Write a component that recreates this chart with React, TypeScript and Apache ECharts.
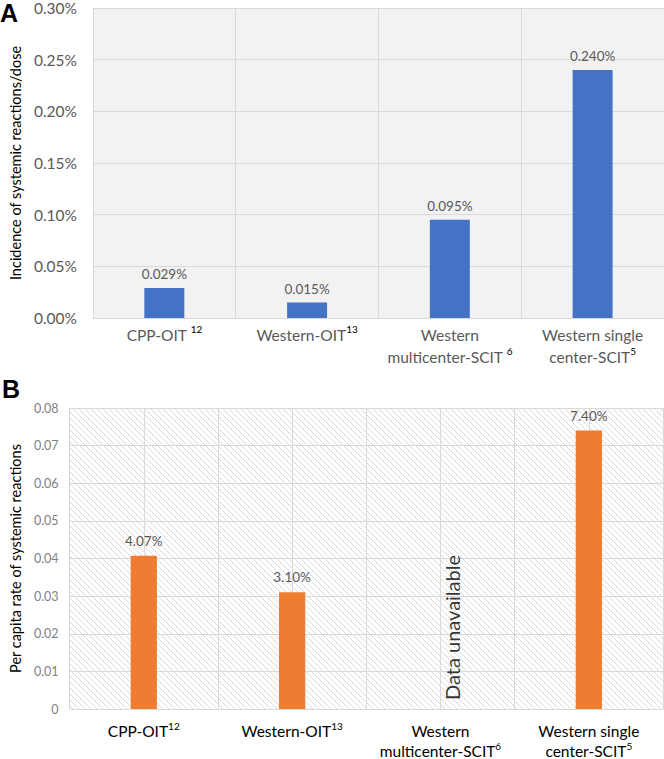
import React, { useEffect, useRef } from 'react';
import * as echarts from 'echarts';

// Panel A: incidence of systemic reactions per dose (in percent)
const categoriesA = ['CPP-OIT ', 'Western-OIT', 'Western\nmulticenter-SCIT ', 'Western single\ncenter-SCIT'];
const refsA = ['12', '13', '6', '5'];
const valuesA = [0.029, 0.015, 0.095, 0.24];

// Panel B: per capita rate of systemic reactions (fraction)
const categoriesB = ['CPP-OIT', 'Western-OIT', 'Western\nmulticenter-SCIT', 'Western single\ncenter-SCIT'];
const refsB = ['12', '13', '6', '5'];
const valuesB: (number | null)[] = [0.0407, 0.031, null, 0.074];
const unavailableIndexB = 2;
const unavailableText = 'Data unavailable';

const FONT = 'Lato, "Open Sans", sans-serif';

function makeHatch() {
  const c = document.createElement('canvas');
  const s = 6;
  c.width = s;
  c.height = s;
  const ctx = c.getContext('2d')!;
  ctx.fillStyle = '#ffffff';
  ctx.fillRect(0, 0, s, s);
  ctx.strokeStyle = '#d9d9d9';
  ctx.lineWidth = 1;
  for (const k of [-s, 0, s]) {
    ctx.beginPath();
    ctx.moveTo(k, 0);
    ctx.lineTo(k + s, s);
    ctx.stroke();
  }
  return c;
}

function supLabel(cats: string[], refs: string[]) {
  return (value: string, idx: number) => {
    const i = cats.indexOf(value);
    const r = refs[i >= 0 ? i : idx];
    const parts = value.split('\n');
    const last = parts.pop();
    const head = parts.map((p) => `{m|${p}}`).join('\n');
    return (head ? head + '\n' : '') + `{m|${last}}{sup|${r}}`;
  };
}

export default function App() {
  const ref = useRef<HTMLDivElement>(null);
  useEffect(() => {
    document.body.style.margin = '0';
    const chart = echarts.init(ref.current!, null, { renderer: 'svg' });
    const hatch = makeHatch();
    const grey = '#d9d9d9';
    chart.setOption({
      animation: false,
      textStyle: { fontFamily: FONT },
      grid: [
        { left: 82, top: 6, width: 592, height: 312, show: true, backgroundColor: '#f2f2f2', borderWidth: 0 },
        {
          left: 53, top: 408, width: 610, height: 304, show: true, borderWidth: 0,
          backgroundColor: { image: hatch, repeat: 'repeat', imageWidth: 6, imageHeight: 6 },
        },
      ],
      xAxis: [
        {
          type: 'category', gridIndex: 0, data: categoriesA,
          axisLine: { show: true, lineStyle: { color: grey } },
          axisTick: { show: false },
          splitLine: { show: true, interval: 0, lineStyle: { color: grey } },
          axisLabel: {
            interval: 0, margin: 6, formatter: supLabel(categoriesA, refsA),
            rich: {
              m: { fontSize: 15.5, color: '#595959', lineHeight: 22, fontFamily: FONT },
              sup: { fontSize: 10, color: '#000', verticalAlign: 'top', lineHeight: 22, padding: [0, 0, 8, 0], fontFamily: FONT },
            },
          },
        },
        {
          type: 'category', gridIndex: 1, data: categoriesB,
          axisLine: { show: true, lineStyle: { color: grey } },
          axisTick: { show: false },
          splitLine: { show: false },
          axisLabel: {
            interval: 0, margin: 12, formatter: supLabel(categoriesB, refsB),
            rich: {
              m: { fontSize: 15.5, color: '#000', lineHeight: 20, fontFamily: FONT },
              sup: { fontSize: 10, color: '#000', verticalAlign: 'top', lineHeight: 20, padding: [0, 0, 8, 0], fontFamily: FONT },
            },
          },
        },
        {
          type: 'value', gridIndex: 1, min: 0, max: 8, interval: 1,
          axisLabel: { show: false }, axisLine: { show: false }, axisTick: { show: false },
          splitLine: { show: true, lineStyle: { color: grey } },
        },
      ],
      yAxis: [
        {
          type: 'value', gridIndex: 0, min: 0, max: 0.3, interval: 0.05,
          name: 'Incidence of systemic reactions/dose', nameLocation: 'middle', nameGap: 66,
          nameTextStyle: { color: '#000', fontSize: 14.5, fontFamily: FONT },
          axisLine: { show: false }, axisTick: { show: false },
          splitLine: { lineStyle: { color: grey } },
          axisLabel: { formatter: (v: number) => v.toFixed(2) + '%', color: '#595959', fontSize: 15.5, margin: 16 },
        },
        {
          type: 'value', gridIndex: 1, min: 0, max: 0.08, interval: 0.01,
          name: 'Per capita rate of systemic reactions', nameLocation: 'middle', nameGap: 37,
          nameTextStyle: { color: '#000', fontSize: 14.5, fontFamily: FONT },
          axisLine: { show: false }, axisTick: { show: false },
          splitLine: { lineStyle: { color: grey } },
          axisLabel: { formatter: (v: number) => (v === 0 ? '0' : v.toFixed(2)), color: '#7f7f7f', fontSize: 12.5, margin: 11 },
        },
      ],
      series: [
        {
          type: 'bar', xAxisIndex: 0, yAxisIndex: 0, data: valuesA, barWidth: '28%',
          itemStyle: { color: '#4472C4' },
          label: {
            show: true, position: 'top', distance: 7, color: '#595959', fontSize: 13.5,
            formatter: (p: any) => p.value.toFixed(3) + '%',
          },
        },
        {
          type: 'bar', xAxisIndex: 1, yAxisIndex: 1, data: valuesB, barWidth: '17.7%',
          itemStyle: { color: '#ED7D31' },
          label: {
            show: true, position: 'top', distance: 8, color: '#595959', fontSize: 13.5,
            formatter: (p: any) => (p.value == null ? '' : (p.value * 100).toFixed(2) + '%'),
          },
        },
        {
          type: 'scatter', xAxisIndex: 1, yAxisIndex: 1, symbolSize: 0,
          data: [[unavailableIndexB, 0]],
          label: {
            show: true, formatter: unavailableText, position: [12, -9], rotate: 90,
            align: 'left', verticalAlign: 'middle', color: '#000', fontSize: 20,
          },
          silent: true,
        },
      ],
      graphic: [
        { type: 'text', left: 0, top: 0, style: { text: 'A', font: 'bold 25px "Liberation Sans", Arial, sans-serif', fill: '#000' } },
        { type: 'text', left: 2, top: 376, style: { text: 'B', font: 'bold 25px "Liberation Sans", Arial, sans-serif', fill: '#000' } },
      ],
    });
    return () => chart.dispose();
  }, []);
  return <div ref={ref} style={{ width: 664, height: 759 }} />;
}
